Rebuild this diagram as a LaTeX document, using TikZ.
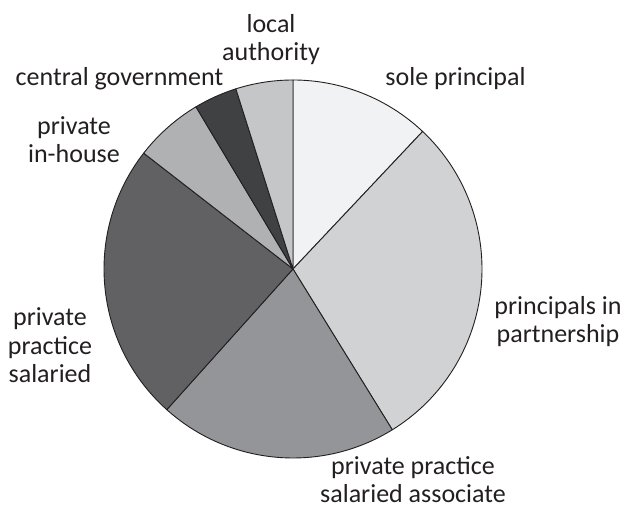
\documentclass[tikz,border=0pt]{standalone}
\usepackage{fontspec}
\setmainfont{Carlito}
\definecolor{cSole}{HTML}{F1F2F3}
\definecolor{cPart}{HTML}{D1D2D4}
\definecolor{cAssoc}{HTML}{939598}
\definecolor{cSal}{HTML}{616163}
\definecolor{cHouse}{HTML}{B0B1B3}
\definecolor{cCentral}{HTML}{404143}
\definecolor{cLocal}{HTML}{C5C6C8}
\definecolor{ink}{HTML}{231F20}
\begin{document}
\begin{tikzpicture}[x=1pt,y=1pt,
  slice/.style={draw=ink,line width=0.9pt,line join=round},
  lbl/.style={text=ink,align=center,anchor=base,inner sep=0pt,font={\fontsize{26}{28.7}\selectfont}}]
\useasboundingbox (0,0) rectangle (626,508);
\coordinate (c) at (293,239);
\def\R{189}
\filldraw[slice,fill=cSole] (c) -- ++(90:\R) arc[start angle=90,end angle=46.7,radius=\R] -- cycle;
\filldraw[slice,fill=cPart] (c) -- ++(46.7:\R) arc[start angle=46.7,end angle=-58.3,radius=\R] -- cycle;
\filldraw[slice,fill=cAssoc] (c) -- ++(-58.3:\R) arc[start angle=-58.3,end angle=-131.9,radius=\R] -- cycle;
\filldraw[slice,fill=cSal] (c) -- ++(228.1:\R) arc[start angle=228.1,end angle=142.2,radius=\R] -- cycle;
\filldraw[slice,fill=cHouse] (c) -- ++(142.2:\R) arc[start angle=142.2,end angle=120.9,radius=\R] -- cycle;
\filldraw[slice,fill=cCentral] (c) -- ++(120.9:\R) arc[start angle=120.9,end angle=107.6,radius=\R] -- cycle;
\filldraw[slice,fill=cLocal] (c) -- ++(107.6:\R) arc[start angle=107.6,end angle=90,radius=\R] -- cycle;
\node[lbl] (local) at (271,447) {local\\authority};
\node[lbl] (central) at (119.5,422) {central government};
\node[lbl] (sole) at (455.5,422) {sole principal};
\node[lbl] (house) at (74,345) {private\\in-house};
\node[lbl] (sal) at (50,125) {private\\practice\\salaried};
\node[lbl] (part) at (558,165) {principals in\\partnership};
\node[lbl] (assoc) at (413,5) {private practice\\salaried associate};
\end{tikzpicture}
\end{document}
